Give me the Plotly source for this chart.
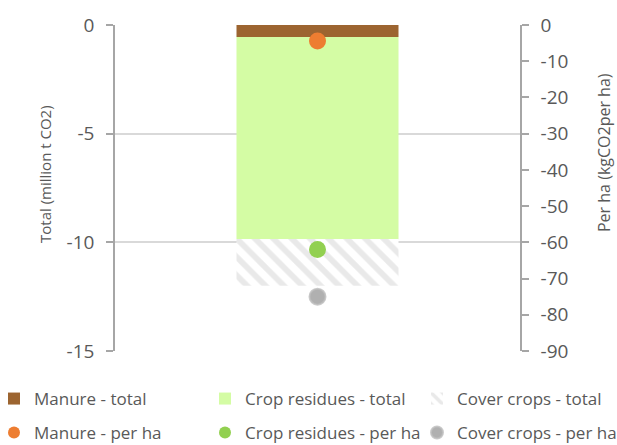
import plotly.graph_objects as go

# Single category, stacked totals (left axis) and per-hectare values (right axis)
category = ["Total"]
manure_total = [-0.55]
crop_residues_total = [-9.3]
cover_crops_total = [-2.15]
manure_per_ha = [-4.4]
crop_residues_per_ha = [-62.0]
cover_crops_per_ha = [-75.0]

left_ticks = [0, -5, -10, -15]
right_ticks = [0, -10, -20, -30, -40, -50, -60, -70, -80, -90]

FONT = "Open Sans"
TXT = "#595959"
AXIS = "#a6a6a6"
GRID = "#d9d9d9"

fig = go.Figure()

fig.add_trace(go.Bar(
    x=category, y=manure_total, name="Manure - total",
    marker=dict(color="#9c6430", line=dict(width=0)), width=0.4,
    legend="legend", yaxis="y",
))
fig.add_trace(go.Bar(
    x=category, y=crop_residues_total, name="Crop residues - total",
    marker=dict(color="#d4fca4", line=dict(width=0)), width=0.4,
    legend="legend2", yaxis="y",
))
fig.add_trace(go.Bar(
    x=category, y=cover_crops_total, name="Cover crops - total",
    marker=dict(color="white", line=dict(width=0),
                pattern=dict(shape="\\", fgcolor="#d4d4d4", bgcolor="white",
                             size=13, solidity=0.45)),
    width=0.4, legend="legend3", yaxis="y",
))

fig.add_trace(go.Scatter(
    x=category, y=manure_per_ha, name="Manure - per ha", mode="markers",
    marker=dict(color="#ed7d31", size=17), legend="legend4", yaxis="y2",
))
fig.add_trace(go.Scatter(
    x=category, y=crop_residues_per_ha, name="Crop residues - per ha", mode="markers",
    marker=dict(color="#92d050", size=17), legend="legend5", yaxis="y2",
))
fig.add_trace(go.Scatter(
    x=category, y=cover_crops_per_ha, name="Cover crops - per ha", mode="markers",
    marker=dict(color="rgba(150,150,150,0.75)", size=16,
                line=dict(color="rgba(190,190,190,0.8)", width=2)),
    legend="legend6", yaxis="y2",
))

# plot area in pixels
L, R, T, B = 115, 97, 25, 94
W, H = 617, 445
pw, ph = W - L - R, H - T - B


def px_x(px):
    return (px - L) / pw


def px_y(py):
    return (H - B - py) / ph


legend_common = dict(
    font=dict(family=FONT, size=17, color=TXT),
    bgcolor="rgba(0,0,0,0)", borderwidth=0,
    xanchor="left", yanchor="middle", itemwidth=30,
    itemsizing="constant",
)
legends = {}
cols = [-6, 205, 417]
rows = [399, 433]
names = ["legend", "legend2", "legend3", "legend4", "legend5", "legend6"]
for i, nm in enumerate(names):
    r, c = divmod(i, 3)
    legends[nm] = dict(legend_common, x=px_x(cols[c]), y=px_y(rows[r]))

axis_titles = [
    dict(text="Total (million t CO2)", x=px_x(45), y=px_y(174), size=15),
    dict(text="Per ha (kgCO2per ha)", x=px_x(604), y=px_y(153), size=16),
]
annotations = [
    dict(text=a["text"], x=a["x"], y=a["y"], xref="paper", yref="paper",
         textangle=-90, showarrow=False, xanchor="center", yanchor="middle",
         font=dict(family=FONT, size=a["size"], color=TXT))
    for a in axis_titles
]

fig.update_layout(
    width=W, height=H,
    margin=dict(l=L, r=R, t=T, b=B, autoexpand=False),
    paper_bgcolor="white", plot_bgcolor="white",
    barmode="relative",
    font=dict(family=FONT, color=TXT),
    showlegend=True,
    annotations=annotations,
    xaxis=dict(visible=False, range=[-0.5, 0.5]),
    yaxis=dict(
        range=[-15, 0], tickvals=left_ticks, ticktext=[str(v) for v in left_ticks],
        showgrid=True, gridcolor=GRID, gridwidth=1.5, zeroline=False,
        showline=True, linecolor=AXIS, linewidth=1.5,
        ticks="outside", ticklen=7, tickcolor=AXIS, tickwidth=1.5,
        tickfont=dict(family=FONT, size=19, color=TXT), ticklabelstandoff=8,
    ),
    yaxis2=dict(
        range=[-90, 0], tickvals=right_ticks, ticktext=[str(v) for v in right_ticks],
        overlaying="y", side="right", showgrid=False, zeroline=False,
        showline=True, linecolor=AXIS, linewidth=1.5,
        ticks="outside", ticklen=7, tickcolor=AXIS, tickwidth=1.5,
        tickfont=dict(family=FONT, size=19, color=TXT), ticklabelstandoff=8,
    ),
    **legends,
)

fig.write_html("out.html")
